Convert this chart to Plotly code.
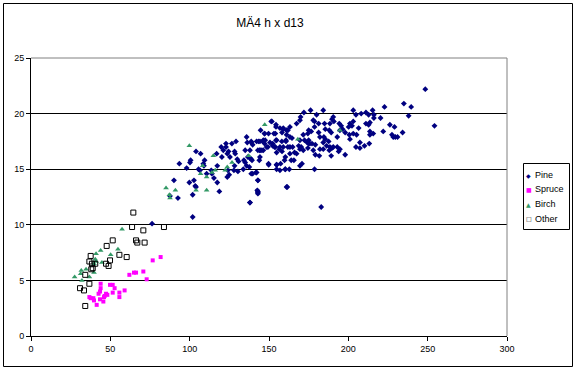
import plotly.graph_objects as go

title_text = "MÄ4 h x d13"
x_ticks = [0, 50, 100, 150, 200, 250, 300]
y_ticks = [0, 5, 10, 15, 20, 25]
series_names = ["Pine", "Spruce", "Birch", "Other"]
series_colors = ["#000080", "#FF00FF", "#339966", "#000000"]
legend_glyphs = ["◆", "■", "▲", "□"]

pine_d = [76.3, 101.9,
          93.5, 100.2, 100.6, 104, 106.9, 98.1, 90.1, 99.8, 102.7, 103.5, 104, 87.6, 92.6, 101.9,
          118.7, 109.4, 108.6, 109, 105.6, 113.6, 114, 117.4, 115.3, 122.9, 122.9, 119.9, 117,
          121.2, 124.5, 123.7, 126.6, 129.2, 128.3, 128.7, 120.3, 125.4, 130, 130.8, 134.2, 135.9,
          136.3, 138.8, 135, 138, 136.7, 138.8, 135, 135.9, 137.6, 133.8, 139.7, 130.4, 128.3,
          124.1, 124.9, 123.7, 117.4, 127.9, 110.7, 106.5, 138, 141.8, 143, 142.6, 143, 144.7,
          147.2, 143.4, 146, 147.6, 149.7, 151.8, 153.1, 154.4, 152.3, 154, 156.5, 144.3, 145.5,
          148.5, 150.6, 154.8, 156.9, 159, 161, 158.1, 160.7, 161.9, 149.7, 154.8, 160.2, 156.9,
          161.5,
          248.5, 235, 239.6, 238, 222.8, 254.3, 234.2, 226.2, 229.1, 227.5, 229.6, 222, 220.3,
          215.3, 216.1, 216.1, 211.1, 212.8, 211.1, 212.8, 213.6, 208.1, 203.1, 204.8, 213.6,
          215.7, 213.6, 206.5, 201, 203.1, 200.2, 202.3, 198, 200.6, 203.1, 205.2, 207.3, 207.3,
          210.2, 213.2, 201, 194.3, 195.5, 194.7, 196.4, 190.5, 189.7, 190.9, 184.2, 180, 176.2,
          172, 188.4, 185.5, 188, 189.2, 193, 185, 181.3, 178.7, 177.9, 178.7, 175, 174.5, 176.6,
          181.3, 182.1, 184.6, 185.5, 184.2, 187.6, 171.6, 172.4, 174.1, 175.8, 169.5, 169.9,
          167.4, 163.2, 161.9, 159, 158.2, 154.4, 154, 151.4, 147.2, 163.2, 161.1, 160.7, 164.5,
          171.6, 168.7, 170.3, 175, 177.1, 179.2, 177.9, 169.5, 174.5, 175, 163.2, 164.9, 159,
          156.9, 153.5, 152.3, 149.3, 144.3, 146.4, 147.2, 142.2, 138.8, 139.7, 144.3, 146.4, 143,
          154.8, 158.2, 154.4, 163.2, 166.1, 167.4, 169.5, 160.3, 159.8, 164, 165.7, 149.8, 154.8,
          157.3, 154.8, 160.3, 162.8, 170.8, 169.5, 178.7, 138, 139.3, 144.3, 143.9, 188.4, 190.5,
          188, 193, 194.7, 193.9, 198, 189.7, 182.1, 184.2, 186.3, 179.2, 181.7, 189.2, 138.8,
          142.2, 143, 143, 143, 138, 161.1, 182.9, 231, 228.3, 204.8]
pine_h = [10.1, 10.7,
          15.5, 15.6, 15.8, 16.6, 16.4, 15.1, 14.0, 13.8, 14.0, 13.5, 13.4, 12.6, 12.4, 12.7,
          13.0, 15.8, 15.5, 15.3, 15.0, 14.9, 14.6, 15.3, 14.2, 17.3, 17.0, 17.0, 16.4,
          16.7, 16.6, 16.4, 17.3, 17.5, 16.6, 16.4, 16.1, 16.1, 15.9, 15.7, 15.8, 17.9,
          17.4, 17.4, 16.7, 16.7, 16.1, 15.9, 15.6, 15.3, 15.2, 15.0, 14.6, 14.8, 15.3,
          14.9, 14.5, 14.3, 13.8, 14.9, 14.6, 14.9, 12.0, 14.7, 14.0, 13.1, 12.9, 18.5,
          18.2, 17.5, 17.5, 17.6, 18.2, 19.3, 18.2, 19.0, 17.3, 17.0, 16.8, 16.7, 16.7,
          17.0, 17.4, 17.6, 18.7, 18.7, 18.5, 17.5, 17.5, 17.0, 15.5, 15.4, 15.0, 14.9,
          13.4,
          22.2, 20.9, 20.6, 19.8, 20.6, 18.9, 18.3, 19.0, 18.8, 18.1, 17.9, 18.4, 19.6,
          20.3, 19.9, 19.6, 20.1, 19.9, 19.1, 19.0, 19.2, 20.0, 20.3, 19.9, 18.4,
          18.2, 18.1, 18.7, 19.1, 19.3, 18.8, 18.9, 18.3, 18.1, 18.2, 18.1, 17.4, 16.9,
          17.1, 17.3, 17.7, 19.1, 18.9, 18.5, 18.6, 19.7, 19.5, 19.3, 20.3, 19.9, 20.3,
          20.1, 19.1, 18.6, 18.5, 18.3, 17.9, 19.1, 19.1, 18.8, 19.4, 19.3, 18.5, 18.2, 18.4,
          18.3, 17.9, 17.9, 17.7, 17.4, 17.5, 18.1, 17.6, 17.4, 17.3, 19.4, 19.7,
          19.1, 18.8, 18.5, 18.6, 18.3, 18.8, 18.2, 19.3, 18.2, 17.9, 18.1, 17.6, 17.8,
          16.7, 17.1, 17.0, 17.6, 17.3, 17.2, 16.7, 17.6, 16.9, 17.3, 17.0, 17.0, 17.0,
          17.0, 17.0, 17.1, 17.0, 17.5, 17.6, 17.3, 17.5, 17.5, 17.2, 16.7, 16.7, 16.7,
          16.5, 16.6, 17.6, 16.4, 16.5, 16.4, 16.8, 16.1, 15.8, 15.8, 15.8, 15.4, 15.4,
          15.5, 15.0, 15.0, 15.0, 15.5, 15.3, 15.0, 16.0, 15.8, 16.1, 15.8, 17.0, 17.0,
          16.7, 17.0, 16.8, 16.6, 16.3, 16.9, 16.8, 16.8, 17.1, 16.3, 16.2, 16.2, 14.6,
          14.7, 14.0, 13.0, 12.8, 12.0, 13.4, 11.6, 17.9, 17.9, 17.0]

spruce_d = [43.9, 43.9, 49.8, 51.5, 52.7, 43.5, 42.6, 55.7, 59, 51.5, 47.3, 46.4, 48.1, 55.7,
            36.8, 37.6, 39.3, 39.7, 43.5, 45.6, 41.4, 62, 64.9, 66.2, 70.8, 72.9, 76.7, 81.7, 46]
spruce_h = [4.7, 4.3, 4.6, 4.6, 4.3, 4.0, 3.8, 3.9, 4.1, 3.9, 3.8, 3.6, 3.7, 3.5,
            3.5, 3.4, 3.4, 3.2, 3.3, 3.1, 2.8, 5.5, 5.7, 5.7, 5.8, 5.1, 6.8, 7.1, 3.5]

birch_d = [57.4, 50.2, 54.8, 43.9, 41, 40.5, 41, 39.7, 44.7, 27.5, 31.7, 31.3, 34.7, 32.1, 36.8,
           39.7, 99.8, 85.1, 91, 87.2, 87.6, 104, 110.7, 110.7, 106.9, 108.2, 114.9, 116.1, 114,
           122.4, 123.7, 126.7, 137.2, 147.3, 168.2, 194.7]
birch_h = [9.6, 7.3, 7.8, 7.7, 7.4, 6.9, 6.7, 6.5, 6.6, 5.3, 5.9, 5.6, 6.0, 5.0, 5.3,
           5.7, 17.1, 13.3, 13.1, 12.7, 12.4, 13.1, 13.1, 14.3, 14.6, 15.3, 16.2, 14.9, 14.7,
           14.9, 15.2, 15.6, 16.2, 19.0, 17.7, 18.5]

other_d = [64.5, 63.7, 83.8, 70.8, 66.2, 67, 71.6, 51.5, 47.7, 37.6, 55.7, 60.3, 36.8, 49.8,
           38.4, 40.5, 47.3, 48.9, 38, 38.9, 34.2, 36.8, 30.9, 33.4, 34.2]
other_h = [11.1, 9.8, 9.8, 9.5, 8.6, 8.4, 8.4, 8.6, 8.1, 7.2, 7.3, 7.1, 6.7, 6.8,
           6.5, 6.5, 6.5, 6.3, 6.0, 6.1, 5.5, 4.7, 4.3, 4.1, 2.7]

FONT = "Liberation Sans, Arial, sans-serif"

# plot-area pixel geometry
L, R, T, B = 31, 507, 58, 336
W, H = R - L, B - T


def px_x(p):
    return (p - L) / W


def px_y(p):
    return (B - p) / H


fig = go.Figure()
fig.add_trace(go.Scatter(x=pine_d, y=pine_h, mode="markers", name=series_names[0],
                         marker=dict(symbol="diamond", size=4.5, color=series_colors[0])))
fig.add_trace(go.Scatter(x=spruce_d, y=spruce_h, mode="markers", name=series_names[1],
                         marker=dict(symbol="square", size=4, color=series_colors[1])))
fig.add_trace(go.Scatter(x=birch_d, y=birch_h, mode="markers", name=series_names[2],
                         marker=dict(symbol="triangle-up", size=5, color=series_colors[2])))
fig.add_trace(go.Scatter(x=other_d, y=other_h, mode="markers", name=series_names[3],
                         marker=dict(symbol="square-open", size=5, color=series_colors[3],
                                     line=dict(width=1, color=series_colors[3]))))

fig.update_layout(
    width=576, height=370,
    margin=dict(l=L, r=576 - R, t=T, b=370 - B, autoexpand=False),
    paper_bgcolor="white", plot_bgcolor="white",
    font=dict(family=FONT, size=9, color="black"),
    title=dict(text=title_text, x=270 / 576, xanchor="center", y=1 - 23 / 370, yanchor="middle",
               font=dict(family=FONT, size=12, color="black")),
    showlegend=False,
    xaxis=dict(range=[0, 300], tickvals=x_ticks, showgrid=False, zeroline=False,
               showline=True, linecolor="black", linewidth=1, ticks="outside", ticklen=4,
               tickcolor="black", tickfont=dict(size=9)),
    yaxis=dict(range=[0, 25], tickvals=y_ticks, showgrid=True, gridcolor="black", gridwidth=1,
               zeroline=False, showline=True, linecolor="black", linewidth=1,
               ticks="outside", ticklen=4, tickcolor="black", tickfont=dict(size=9)),
)

# plot-area top and right border (gray)
fig.add_shape(type="line", xref="paper", yref="paper", x0=0, x1=1, y0=1, y1=1,
              line=dict(color="#808080", width=1))
fig.add_shape(type="line", xref="paper", yref="paper", x0=1, x1=1, y0=0, y1=1,
              line=dict(color="#808080", width=1))
# chart-area border
fig.add_shape(type="rect", xref="paper", yref="paper",
              x0=px_x(3.5), x1=px_x(572.5), y0=px_y(366.5), y1=px_y(3.5),
              line=dict(color="black", width=1))

# legend box (drawn manually)
lx0, lx1, ly0, ly1 = 523.5, 569.5, 163.5, 229.5
fig.add_shape(type="rect", xref="paper", yref="paper",
              x0=px_x(lx0), x1=px_x(lx1), y0=px_y(ly1), y1=px_y(ly0),
              line=dict(color="black", width=1), fillcolor="white")
for i, (name, col, glyph) in enumerate(zip(series_names, series_colors, legend_glyphs)):
    yc = 175 + i * 14.5
    fig.add_annotation(xref="paper", yref="paper", x=px_x(528.5), y=px_y(yc),
                       text=glyph, showarrow=False, xanchor="center", yanchor="middle",
                       font=dict(family="DejaVu Sans", size=6, color=col))
    fig.add_annotation(xref="paper", yref="paper", x=px_x(533), y=px_y(yc),
                       text=name, showarrow=False, xanchor="left", yanchor="middle",
                       font=dict(family=FONT, size=9, color="black"))

fig.write_html("out.html", config={"displayModeBar": False},
               post_script="document.body.style.margin='0';document.body.style.overflow='hidden';")
